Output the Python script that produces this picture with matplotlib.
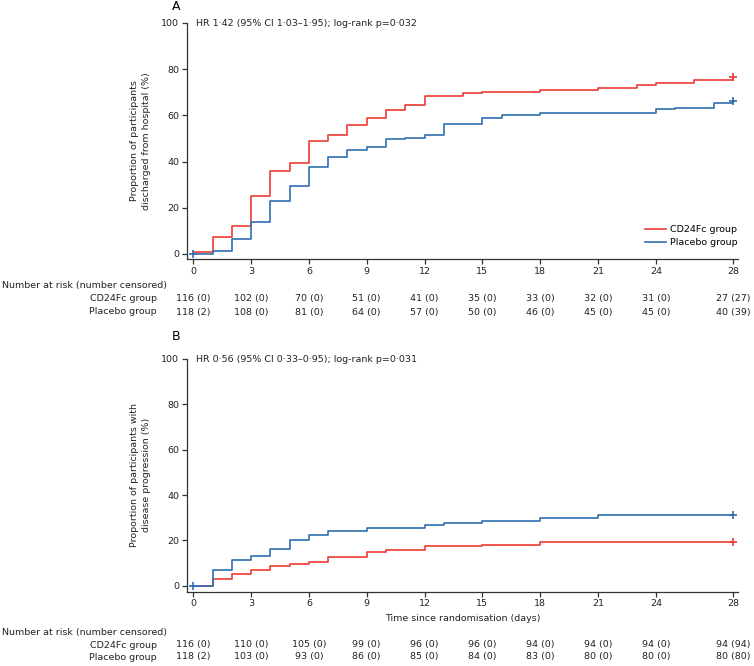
import matplotlib
matplotlib.use("Agg")
import matplotlib.pyplot as plt
import matplotlib.transforms as mtransforms

plt.rcParams['font.family'] = ['Liberation Sans Narrow', 'DejaVu Sans']
FS = 6.8
plt.rcParams['font.size'] = FS

RED = '#ee3b33'
BLUE = '#2f6fb0'
GREY = '#333333'
TXT = '#222222'

# Panel A - discharged from hospital
a_cd24_t = [0, 1, 2, 3, 4, 5, 6, 7, 8, 9, 10, 11, 12, 14, 15, 18, 21, 23, 24, 26, 28]
a_cd24_v = [1, 7.5, 12, 25, 36, 39.5, 49, 51.5, 56, 59, 62.5, 64.5, 68.5, 69.5, 70.3, 71, 72, 73, 74, 75.5, 76.5]
a_plac_t = [0, 1, 2, 3, 4, 5, 6, 7, 8, 9, 10, 11, 12, 13, 15, 16, 18, 24, 25, 27, 28]
a_plac_v = [0, 1.2, 6.5, 14, 23, 29.6, 37.5, 42, 44.8, 46.2, 49.6, 50.4, 51.7, 56.4, 59, 60, 61.2, 62.6, 63.3, 65.2, 66.2]

# Panel B - disease progression
b_cd24_t = [0, 1, 2, 3, 4, 5, 6, 7, 9, 10, 12, 15, 18, 28]
b_cd24_v = [0, 3.2, 5, 6.9, 8.7, 9.4, 10.6, 12.8, 14.7, 15.7, 17.4, 18.2, 19.1, 19.1]
b_plac_t = [0, 1, 2, 3, 4, 5, 6, 7, 9, 12, 13, 15, 18, 21, 28]
b_plac_v = [0, 6.9, 11.2, 13.1, 16.3, 20, 22.3, 24.1, 25.7, 26.9, 27.8, 28.6, 30.1, 31.3, 31.3]

risk_days = [0, 3, 6, 9, 12, 15, 18, 21, 24, 28]
a_risk_cd24 = ['116 (0)', '102 (0)', '70 (0)', '51 (0)', '41 (0)', '35 (0)', '33 (0)', '32 (0)', '31 (0)', '27 (27)']
a_risk_plac = ['118 (2)', '108 (0)', '81 (0)', '64 (0)', '57 (0)', '50 (0)', '46 (0)', '45 (0)', '45 (0)', '40 (39)']
b_risk_cd24 = ['116 (0)', '110 (0)', '105 (0)', '99 (0)', '96 (0)', '96 (0)', '94 (0)', '94 (0)', '94 (0)', '94 (94)']
b_risk_plac = ['118 (2)', '103 (0)', '93 (0)', '86 (0)', '85 (0)', '84 (0)', '83 (0)', '80 (0)', '80 (0)', '80 (80)']

W, H = 754, 666
fig = plt.figure(figsize=(W / 100, H / 100), dpi=100)


def fy(px):
    return 1 - px / H


def panel(rect, cd24_t, cd24_v, plac_t, plac_v, hr_text, ylabel, ybottom):
    ax = fig.add_axes(rect)
    ax.step(cd24_t, cd24_v, where='post', color=RED, lw=1.2, label='CD24Fc group')
    ax.step(plac_t, plac_v, where='post', color=BLUE, lw=1.2, label='Placebo group')
    # censor marks
    ax.plot([cd24_t[-1]], [cd24_v[-1]], marker='+', color=RED, ms=6, mew=1.2)
    ax.plot([plac_t[-1]], [plac_v[-1]], marker='+', color=BLUE, ms=6, mew=1.2)
    ax.plot([0], [plac_v[0]], marker='+', color=BLUE, ms=6, mew=1.2)
    ax.set_xlim(-0.34, 28.26)
    ax.set_ylim(ybottom, 100)
    ax.set_xticks(risk_days)
    ax.set_yticks([0, 20, 40, 60, 80, 100])
    for s in ['top', 'right']:
        ax.spines[s].set_visible(False)
    for s in ['left', 'bottom']:
        ax.spines[s].set_color(GREY)
        ax.spines[s].set_linewidth(0.9)
    ax.tick_params(direction='out', length=3.5, width=0.9, color=GREY,
                   labelsize=FS, labelcolor=TXT, pad=2)
    ax.set_ylabel(ylabel, fontsize=FS, color=TXT, linespacing=1.4)
    ax.yaxis.set_label_coords(-0.065, 0.5)
    ax.text(0.15, 100, hr_text, fontsize=FS, va='center', ha='left', color=TXT)
    return ax


axA = panel([186.7 / W, fy(259), (738 - 186.7) / W, (259 - 23) / H],
            a_cd24_t, a_cd24_v, a_plac_t, a_plac_v,
            'HR 1·42 (95% CI 1·03–1·95); log-rank p=0·032',
            'Proportion of participants\ndischarged from hospital (%)', -2.2)
axA.legend(loc='lower right', bbox_to_anchor=(1.0, 0.05), frameon=False,
           fontsize=FS, handlelength=2.2, handletextpad=0.5, labelspacing=0.45,
           borderpad=0, borderaxespad=0)

axB = panel([186.7 / W, fy(591.7), (738 - 186.7) / W, (591.7 - 359) / H],
            b_cd24_t, b_cd24_v, b_plac_t, b_plac_v,
            'HR 0·56 (95% CI 0·33–0·95); log-rank p=0·031',
            'Proportion of participants with\ndisease progression (%)', -2.6)
axB.set_xlabel('Time since randomisation (days)', fontsize=FS, color=TXT, labelpad=4)

fig.text(172 / W, fy(7), 'A', fontsize=9, ha='left', va='center')
fig.text(172 / W, fy(337), 'B', fontsize=9, ha='left', va='center')


def risk_table(ax, y_head, y1, y2, r1, r2):
    tr = mtransforms.blended_transform_factory(ax.transData, fig.transFigure)
    fig.text(2 / W, fy(y_head), 'Number at risk (number censored)', fontsize=FS,
             ha='left', va='center', color=TXT)
    fig.text(157 / W, fy(y1), 'CD24Fc group', fontsize=FS, ha='right', va='center', color=TXT)
    fig.text(157 / W, fy(y2), 'Placebo group', fontsize=FS, ha='right', va='center', color=TXT)
    for d, a, b in zip(risk_days, r1, r2):
        ax.text(d, fy(y1), a, transform=tr, fontsize=FS, ha='center', va='center', color=TXT)
        ax.text(d, fy(y2), b, transform=tr, fontsize=FS, ha='center', va='center', color=TXT)


risk_table(axA, 285, 299, 312, a_risk_cd24, a_risk_plac)
risk_table(axB, 632, 645, 657, b_risk_cd24, b_risk_plac)

fig.savefig('out.png', dpi=100)
